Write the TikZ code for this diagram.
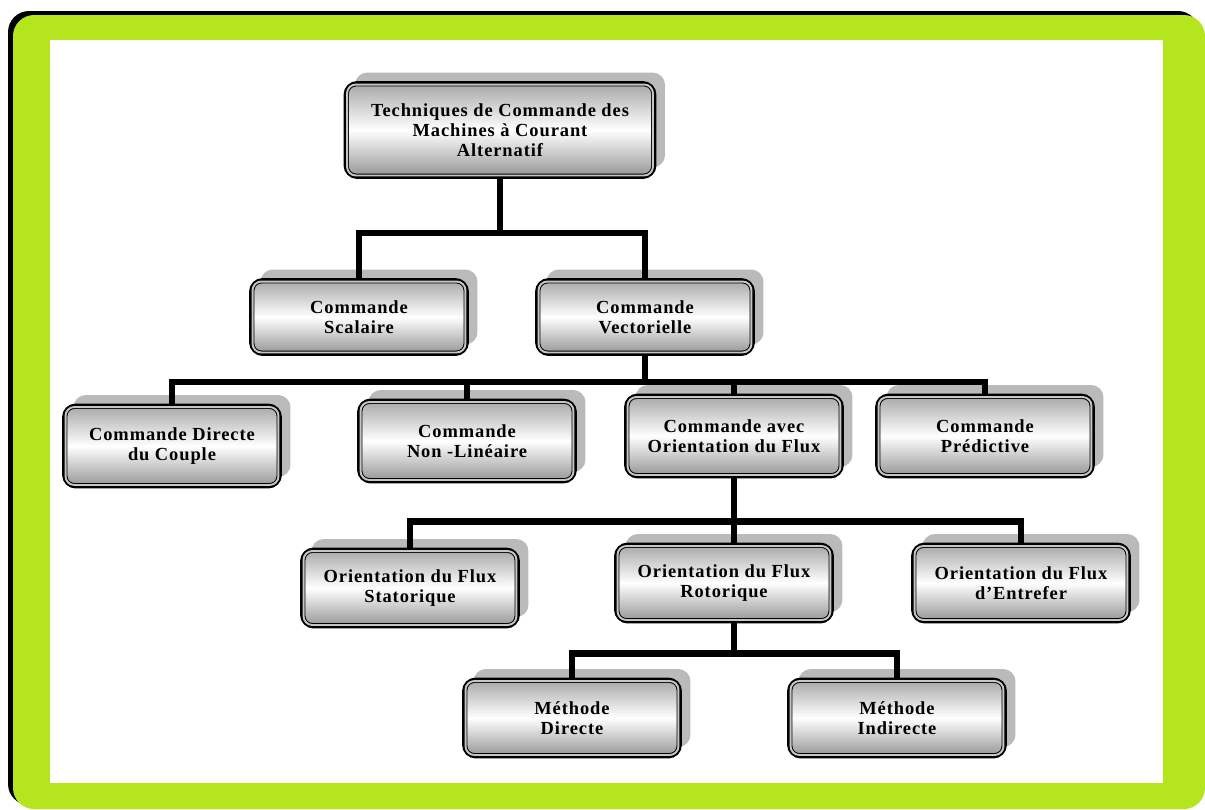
\documentclass[tikz,border=0pt]{standalone}
\usepackage{fontspec}
\setmainfont{Liberation Serif}[LetterSpace=5]
\usepackage{tikz}
\usetikzlibrary{shadows,positioning}
\definecolor{framegreen}{RGB}{181,230,29}

\begin{document}
\begin{tikzpicture}[x=0.02cm, y=-0.02cm,
      box/.style={draw, line width=1.7pt, rounded corners=7pt,
                  top color=gray!70, bottom color=gray!85, middle color=white,
                  drop shadow={shadow xshift=0.2cm, shadow yshift=0.2cm,
                               fill=black!27, opacity=1},
                  minimum width=4.34cm, minimum height=1.56cm, inner sep=2pt,
                  font=\fontsize{10.5}{11.5}\selectfont\bfseries, align=center},
      inner/.style={line width=0.55pt, double=gray!45, double distance=1.1pt,
                    rounded corners=5pt},
      wire/.style={line width=3.6pt}
  ]
    \useasboundingbox (0,0) rectangle (1205,809);
    % frame
    \fill[black, rounded corners=12pt] (8,11) rectangle (1199,805);
    \fill[framegreen, rounded corners=12pt] (13,15) rectangle (1205,809);
    \fill[white] (50,40) rectangle (1163,783);

    % boxes
    \node[box, minimum width=6.2cm, minimum height=1.9cm] (root) at (500,130)
      {Techniques de Commande des\\ Machines à Courant\\ Alternatif};
    \node[box, minimum height=1.5cm] (scal) at (359,317) {Commande\\ Scalaire};
    \node[box, minimum height=1.5cm] (vect) at (645,317) {Commande\\ Vectorielle};
    \node[box, minimum height=1.64cm] (dtc) at (172,446) {Commande Directe\\ du Couple};
    \node[box, minimum height=1.64cm] (nonlin) at (467,441) {Commande\\ Non -Linéaire};
    \node[box, minimum height=1.64cm] (ofx) at (734,436) {Commande avec\\ Orientation du Flux};
    \node[box, minimum height=1.64cm] (pred) at (985,436) {Commande\\ Prédictive};
    \node[box] (stat) at (410,588) {Orientation du Flux\\ Statorique};
    \node[box] (roto) at (724,583) {Orientation du Flux\\ Rotorique};
    \node[box] (entref) at (1021,583) {Orientation du Flux\\ d’Entrefer};
    \node[box] (mdir) at (572,718) {Méthode\\ Directe};
    \node[box] (mind) at (897,718) {Méthode\\ Indirecte};

    \foreach \n in {root,scal,vect,dtc,nonlin,ofx,pred,stat,roto,entref,mdir,mind}
      \draw[inner] ([shift={(2pt,2pt)}]\n.south west)
        rectangle ([shift={(-2pt,-2pt)}]\n.north east);

    % connectors
    \draw[wire] (root.south) -- ++(0,54) coordinate (b1);
    \foreach \n in {scal,vect} \draw[wire] (b1) -| (\n.north);
    \draw[wire] (vect.south) -- ++(0,26) coordinate (b2);
    \foreach \n in {dtc,nonlin,ofx,pred} \draw[wire] (b2) -| (\n.north);
    \draw[wire] (ofx.south) -- ++(0,43) coordinate (b3);
    \foreach \n in {stat,entref} \draw[wire] (b3) -| (\n.north);
    \draw[wire] (b3) -- (b3 |- roto.north);
    \draw[wire] (b3 |- roto.south) -- ++(0,30) coordinate (b4);
    \foreach \n in {mdir,mind} \draw[wire] (b4) -| (\n.north);
  \end{tikzpicture}
\end{document}
